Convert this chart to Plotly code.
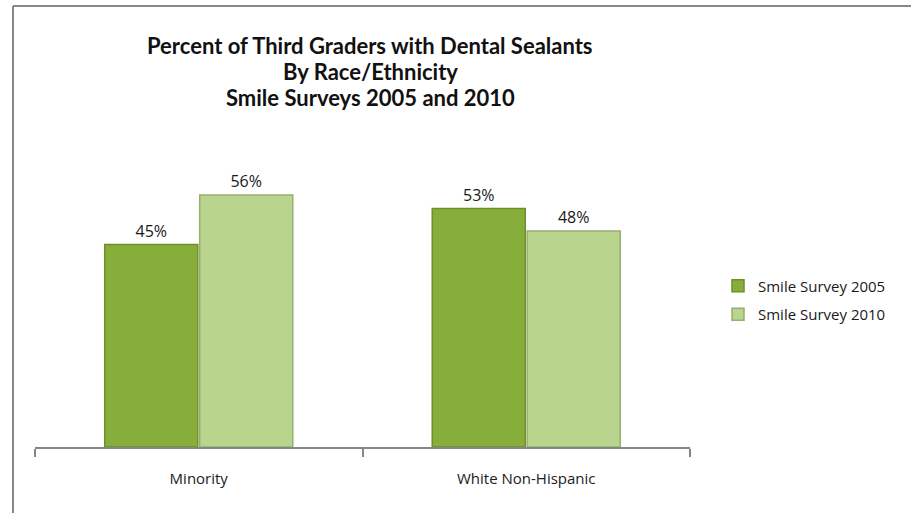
import plotly.graph_objects as go

categories = ["Minority", "White Non-Hispanic"]
series_names = ["Smile Survey 2005", "Smile Survey 2010"]
values_2005 = [0.45, 0.53]
values_2010 = [0.56, 0.48]
title_lines = ["Percent of Third Graders with Dental Sealants", "By Race/Ethnicity", "Smile Surveys 2005 and 2010"]

W, H = 911, 513
L, R, T, B = 35, 221, 177, 66
pw, ph = W - L - R, H - T - B

fig = go.Figure()
fig.add_trace(go.Bar(
    x=categories, y=values_2005, name=series_names[0], legendgroup="a",
    marker=dict(color="#87AE3A", line=dict(color="#6E8F2C", width=1.5)),
    texttemplate="%{y:.0%}", textposition="outside",
    textfont=dict(size=16, color="#1a1a1a", family="Open Sans"), cliponaxis=False,
))
fig.add_trace(go.Bar(
    x=categories, y=values_2010, name=series_names[1], legendgroup="b",
    marker=dict(color="#B9D48C", line=dict(color="#97AE6E", width=1.5)),
    texttemplate="%{y:.0%}", textposition="outside",
    textfont=dict(size=16, color="#1a1a1a", family="Open Sans"), cliponaxis=False,
))

fig.update_layout(
    width=W, height=H,
    margin=dict(l=L, r=R, t=T, b=B, autoexpand=False),
    paper_bgcolor="white", plot_bgcolor="white",
    barmode="group", bargap=0.42, bargroupgap=0.02,
    font=dict(family="Open Sans", size=15, color="#1a1a1a"),
    xaxis=dict(
        showline=True, linecolor="#868686", linewidth=2,
        ticks="outside", tickson="boundaries", ticklen=8, tickcolor="#868686", tickwidth=2,
        tickfont=dict(size=15, color="#1a1a1a"), showgrid=False,
        ticklabelstandoff=17,
    ),
    yaxis=dict(range=[0, 0.6], visible=False, showgrid=False),
    legend=dict(
        x=(718 - L) / pw, xanchor="left", y=(447 - 300) / ph, yanchor="middle",
        font=dict(size=15, color="#1a1a1a"), tracegroupgap=6,
        itemwidth=30, bgcolor="rgba(0,0,0,0)",
    ),
    showlegend=True,
)

# title lines as annotations (one per line for exact spacing)
for i, line in enumerate(title_lines):
    fig.add_annotation(
        text=f"<b>{line}</b>", xref="paper", yref="paper",
        x=(370 - L) / pw, y=(447 - (45 + 26 * i)) / ph,
        xanchor="center", yanchor="middle", showarrow=False,
        font=dict(family="Lato", size=22, color="#111111"),
    )

# chart border (gray frame)
frame = dict(color="#888888", width=2)
fig.add_shape(type="line", xref="paper", yref="paper",
              x0=(13 - L) / pw, x1=(13 - L) / pw,
              y0=(447 - (H + 20)) / ph, y1=(447 - 6) / ph, line=frame)
fig.add_shape(type="line", xref="paper", yref="paper",
              x0=(13 - L) / pw, x1=(W + 20 - L) / pw,
              y0=(447 - 6) / ph, y1=(447 - 6) / ph, line=frame)

fig.write_html("out.html", config={"displayModeBar": False},
               post_script="document.body.style.margin='0';")
